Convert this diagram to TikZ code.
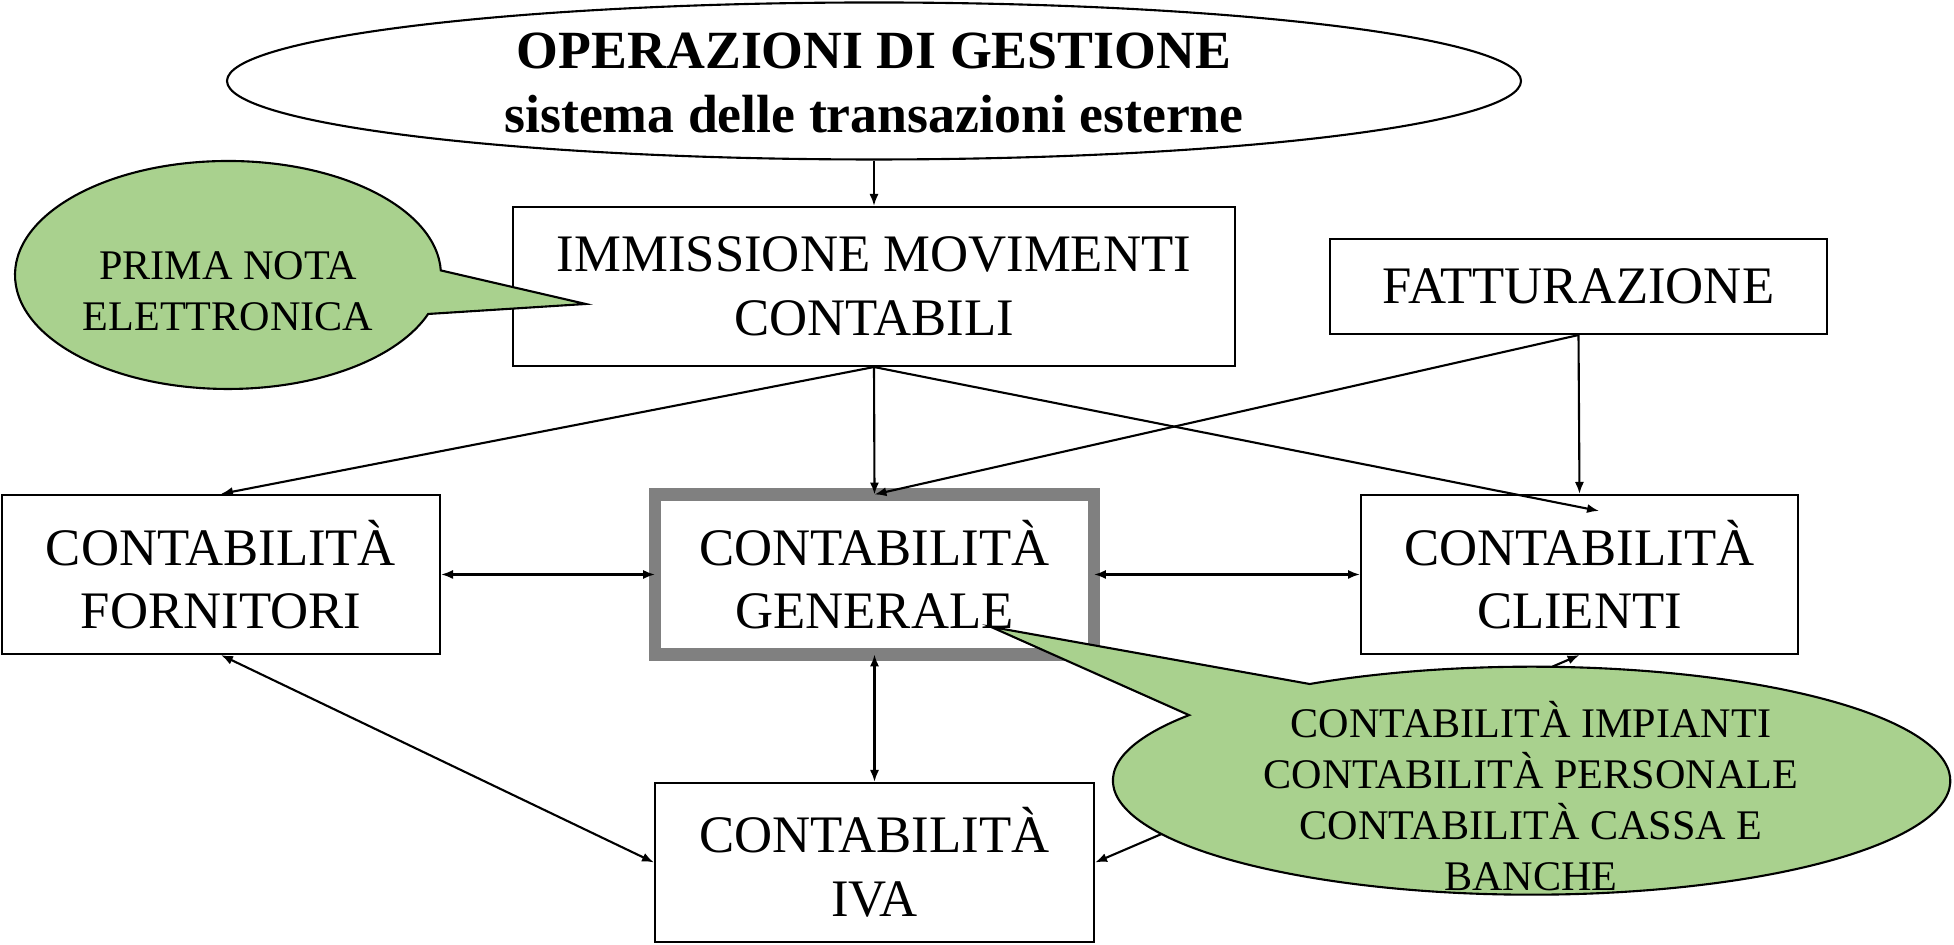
\documentclass[tikz,border=0pt]{standalone}
\usepackage{fontspec}
\setmainfont{Liberation Serif}
\usepackage{xcolor}
\usetikzlibrary{shapes.geometric, arrows.meta, positioning}
\definecolor{notegreen}{RGB}{169,209,142}
\definecolor{framegray}{RGB}{128,128,128}

\begin{document}
\begin{tikzpicture}[
    box/.style={rectangle, draw=black, line width=0.6pt, fill=white, minimum width=4.38cm, minimum height=1.59cm, align=center, inner sep=0pt, font=\fontsize{15}{18.1}\selectfont},
    mainbox/.style={box, draw=framegray, line width=3.6pt, outer sep=0pt, minimum width=4.39cm, minimum height=1.6cm},
    headell/.style={ellipse, draw=black, line width=0.6pt, minimum width=12.94cm, minimum height=1.57cm, inner sep=0pt},
    headtext/.style={align=center, font=\bfseries\fontsize{15.3}{18}\selectfont},
    arrow/.style={-{Latex[length=3.4pt, width=2.6pt]}, line width=0.6pt},
    dblarrow/.style={{Latex[length=3.4pt, width=2.6pt]}-{Latex[length=3.4pt, width=2.6pt]}, line width=0.6pt},
    note/.style={draw=black, line width=0.6pt, fill=notegreen},
    notetext/.style={align=center, font=\fontsize{12}{14.5}\selectfont},
]
\useasboundingbox (0,0) rectangle (19.54,9.45);

% header
\node[headell] (ops) at (8.74,8.64) {};
\node[headtext] (opstext) at (8.74,8.62) {OPERAZIONI DI GESTIONE\\sistema delle transazioni esterne};

% boxes
\node[box, minimum width=7.22cm] (imm) at (8.74,6.585) {IMMISSIONE MOVIMENTI\\CONTABILI};
\node[box, minimum width=4.97cm, minimum height=0.95cm] (fatt) at (15.785,6.585) {FATTURAZIONE};
\node[box] (forn) at (2.21,3.705) {CONTABILITÀ\\FORNITORI};
\node[mainbox] (gen) at (8.745,3.705) {CONTABILITÀ\\GENERALE};
\node[box, minimum width=4.37cm] (cli) at (15.795,3.705) {CONTABILITÀ\\CLIENTI};
\node[box, minimum width=4.39cm] (iva) at (8.745,0.825) {CONTABILITÀ\\IVA};
\coordinate (cliin) at ([xshift=0.195cm, yshift=-0.17cm]cli.north);

% connectors
\draw[arrow] (ops.south) -- (imm.north);
\draw[arrow] (imm.south) -- (forn.north);
\draw[arrow] (imm.south) -- (gen.north);
\draw[arrow] (imm.south) -- (cliin);
\draw[arrow] (fatt.south) -- (gen.north);
\draw[arrow] (fatt.south) -- (cli.north);
\draw[dblarrow] (forn.east) -- (gen.west);
\draw[dblarrow] (gen.east) -- (cli.west);
\draw[dblarrow] (gen.south) -- (iva.north);
\draw[dblarrow] (forn.south) -- (iva.west);
\draw[dblarrow] (cli.south) -- (iva.east);

% callouts
\coordinate (pnc) at (2.28,6.70);
\coordinate (pntip) at (5.857,6.41);
\draw[note] (pnc) ++(2.3:2.13 and 1.14) arc[start angle=2.3, end angle=340, x radius=2.13, y radius=1.14] -- (pntip) -- cycle;
\node[notetext] (pntext) at (2.28,6.54) {PRIMA NOTA\\ELETTRONICA};

\coordinate (oac) at (15.316,1.643);
\coordinate (oatip) at (9.907,3.182);
\draw[note] (oac) ++(144.9:4.187 and 1.14) arc[start angle=144.9, end angle=482, x radius=4.187, y radius=1.14] -- (oatip) -- cycle;
\node[notetext] (oatext) at (15.31,1.49) {CONTABILITÀ IMPIANTI\\CONTABILITÀ PERSONALE\\CONTABILITÀ CASSA E\\BANCHE};

\end{tikzpicture}
\end{document}
